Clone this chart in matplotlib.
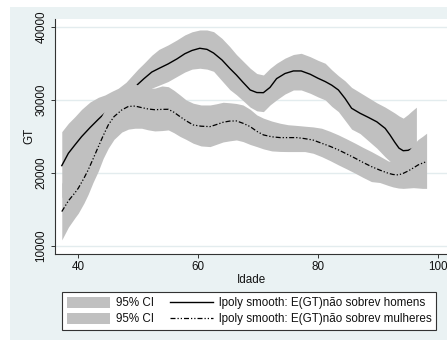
import matplotlib
matplotlib.use("Agg")
import matplotlib.pyplot as plt
from matplotlib.patches import Rectangle, Patch
from matplotlib.lines import Line2D

# ---- data ----
men_x = [37.3, 38.4, 39.5, 40.6, 42.0, 43.4, 44.5, 45.6, 46.7, 48.0, 49.0, 50.0, 51.0, 52.3,
         53.5, 55.0, 56.5, 57.8, 59.0, 60.3, 61.5, 62.6, 64.0, 65.3, 66.4, 67.5, 68.7, 69.8,
         70.9, 72.0, 73.1, 74.5, 75.9, 77.2, 78.7, 80.0, 81.2, 82.3, 83.4, 84.5, 85.6, 87.0,
         88.4, 89.8, 91.2, 92.0, 92.8, 93.5, 94.2, 95.0, 95.6, 96.4]
men_fit = [21010, 22700, 23850, 24970, 26200, 27350, 28200, 28950, 29700, 30600, 31300, 32150,
           32900, 33800, 34300, 34900, 35600, 36300, 36750, 37050, 36900, 36400, 35450, 34300,
           33400, 32400, 31350, 31000, 30980, 31700, 32900, 33600, 33950, 33950, 33500, 32950,
           32500, 32000, 31350, 30200, 28850, 28170, 27600, 27000, 26100, 25200, 24200, 23400,
           23050, 23100, 23300, 23600]
men_hi = [25650, 26800, 27710, 28700, 29700, 30350, 30670, 31150, 31580, 32400, 33300, 34200,
          35000, 36100, 36900, 37500, 38200, 38870, 39300, 39550, 39550, 39320, 38400, 37270,
          36200, 35300, 34320, 33600, 33400, 34300, 35000, 35700, 36200, 36360, 35900, 35400,
          35000, 34100, 33300, 32600, 31700, 31000, 30300, 29600, 29000, 28600, 28200, 27800,
          27500, 28000, 28450, 29000]
men_lo = [16600, 18000, 19500, 21000, 22600, 24200, 25500, 26600, 27700, 28800, 29500, 30200,
          30900, 31600, 32000, 32500, 33200, 33800, 34200, 34320, 34200, 33900, 32600, 31400,
          30700, 29900, 29000, 28500, 28390, 29300, 30000, 30800, 31350, 31350, 30900, 30400,
          29990, 29100, 28390, 27200, 26000, 25400, 24400, 23400, 22200, 21600, 20500, 19500,
          18800, 18300, 18200, 18300]

women_x = [37.3, 38.4, 39.5, 40.05, 41.0, 41.7, 42.5, 43.4, 44.2, 45.05, 46.0, 47.3, 48.4, 49.5,
           50.6, 51.7, 52.8, 54.0, 55.05, 56.0, 57.0, 58.0, 59.2, 60.5, 62.0, 63.0, 64.2, 65.3,
           66.4, 67.5, 68.7, 69.8, 70.9, 72.3, 73.7, 75.0, 76.5, 77.8, 79.2, 80.6, 82.0, 83.4,
           84.8, 86.2, 87.5, 88.9, 90.3, 91.7, 92.5, 93.4, 94.2, 95.05, 95.9, 96.7, 97.4, 98.1]
women_fit = [14730, 16200, 17300, 17920, 19300, 20420, 21900, 23610, 25100, 26570, 27700, 28620,
             29100, 29150, 28940, 28750, 28650, 28700, 28710, 28300, 27710, 27150, 26570, 26400,
             26340, 26600, 26940, 27100, 27120, 26800, 26340, 25700, 25210, 24950, 24840, 24840,
             24840, 24700, 24500, 24070, 23650, 23160, 22600, 22020, 21450, 20880, 20400, 19970,
             19800, 19740, 19950, 20290, 20700, 21110, 21350, 21560]
women_hi = [18600, 19800, 20700, 21330, 22700, 23700, 25100, 26900, 28200, 29700, 30800, 31600,
            32200, 32200, 31800, 31600, 31600, 31900, 31800, 31300, 30670, 30000, 29540, 29300,
            29300, 29450, 29670, 29600, 29500, 29300, 28700, 27940, 27500, 27100, 26800, 26600,
            26500, 26400, 26300, 26120, 25700, 25210, 24650, 24070, 23500, 22930, 22300, 21650,
            21500, 21600, 22200, 23000, 23900, 24600, 25000, 25440]
women_lo = [10860, 12600, 13900, 14510, 15900, 17100, 18700, 20300, 22000, 23400, 24600, 25600,
            26000, 26120, 26120, 25900, 25750, 25800, 25890, 25500, 25000, 24600, 24070, 23700,
            23610, 23900, 24250, 24400, 24520, 24300, 23900, 23610, 23300, 23020, 22950, 22930,
            22930, 22930, 22700, 22240, 21700, 21110, 20550, 19970, 19400, 18830, 18700, 18300,
            18100, 17950, 17900, 17950, 18000, 17950, 17900, 17900]

x_ticks = [40, 60, 80, 100]
y_ticks = [10000, 20000, 30000, 40000]
x_label = "Idade"
y_label = "GT"
ci_label = "95% CI"
men_label = "lpoly smooth: E(GT)não sobrev homens"
women_label = "lpoly smooth: E(GT)não sobrev mulheres"

# ---- style ----
plt.rcParams['font.family'] = ['Liberation Sans', 'DejaVu Sans']
FS = 8.4
W, H = 447, 342
BG = '#EAF2F3'
BAND = '#C0C0C0'
GRID = '#E3ECEE'

fig = plt.figure(figsize=(W / 100, H / 100), dpi=100, facecolor='white')
bg = Rectangle((10 / W, 2 / H), 1 - 10 / W, (340 - 7) / H,
               transform=fig.transFigure, facecolor=BG, edgecolor='none', zorder=-10)
fig.patches.append(bg)

ax_l, ax_r, ax_t, ax_b = 55, 447, 19, 253.5
ax = fig.add_axes([ax_l / W, (H - ax_b) / H, (ax_r - ax_l) / W, (ax_b - ax_t) / H])
ax.set_zorder(1)
ax.set_facecolor('white')
ax.set_xlim(36.17, 101.5)
ax.set_ylim(9000, 41050)

for yv in y_ticks:
    ax.axhline(yv, color=GRID, lw=1.0, zorder=1)

ax.fill_between(men_x, men_lo, men_hi, color=BAND, lw=0, zorder=2)
ax.plot(men_x, men_fit, color='black', lw=1.0, zorder=3)
ax.fill_between(women_x, women_lo, women_hi, color=BAND, lw=0, zorder=4)
ax.plot(women_x, women_fit, color='black', lw=0.9, zorder=5,
        linestyle=(0, (4, 1.6, 1, 1.6, 1, 1.6)))

for s in ['top', 'right']:
    ax.spines[s].set_visible(False)
for s in ['left', 'bottom']:
    ax.spines[s].set_color('#333333')
    ax.spines[s].set_linewidth(0.8)
    ax.spines[s].set_zorder(6)

ax.set_xticks(x_ticks)
ax.set_xticklabels([str(v) for v in x_ticks])
ax.set_yticks(y_ticks)
ax.set_yticklabels([str(v) for v in y_ticks])
ax.tick_params(axis='both', direction='out', length=3, width=0.7, color='#333333',
               labelsize=FS, pad=2.5, labelcolor='#111111')
ax.tick_params(axis='y', labelrotation=90)
for lab in ax.get_yticklabels():
    lab.set_va('center')

ax.set_xlabel(x_label, fontsize=FS, color='#111111', va='baseline')
ax.xaxis.set_label_coords(0.5, (ax_b - 283.3) / (ax_b - ax_t))
ax.set_ylabel(y_label, fontsize=FS, color='#111111')
ax.yaxis.set_label_coords((35.8 - ax_l) / (ax_r - ax_l), 0.5)

handles = [Patch(facecolor=BAND, edgecolor='none'), Patch(facecolor=BAND, edgecolor='none'),
           Line2D([], [], color='black', lw=1.0),
           Line2D([], [], color='black', lw=0.9, linestyle=(0, (4, 1.6, 1, 1.6, 1, 1.6)))]
labels = [ci_label, ci_label, men_label, women_label]
leg = fig.legend(handles, labels, ncol=2, loc='upper left',
                 bbox_to_anchor=(62.3 / W, (H - 292.3) / H), borderaxespad=0,
                 fontsize=FS, frameon=True, fancybox=False, framealpha=1,
                 edgecolor='#333333', facecolor='white', handlelength=3.7,
                 handleheight=1.1, handletextpad=0.5, columnspacing=1.4,
                 labelspacing=0.3, borderpad=0.38)
leg.get_frame().set_linewidth(0.8)
for t in leg.get_texts():
    t.set_color('#111111')

fig.savefig('out.png', dpi=100, facecolor='white')
